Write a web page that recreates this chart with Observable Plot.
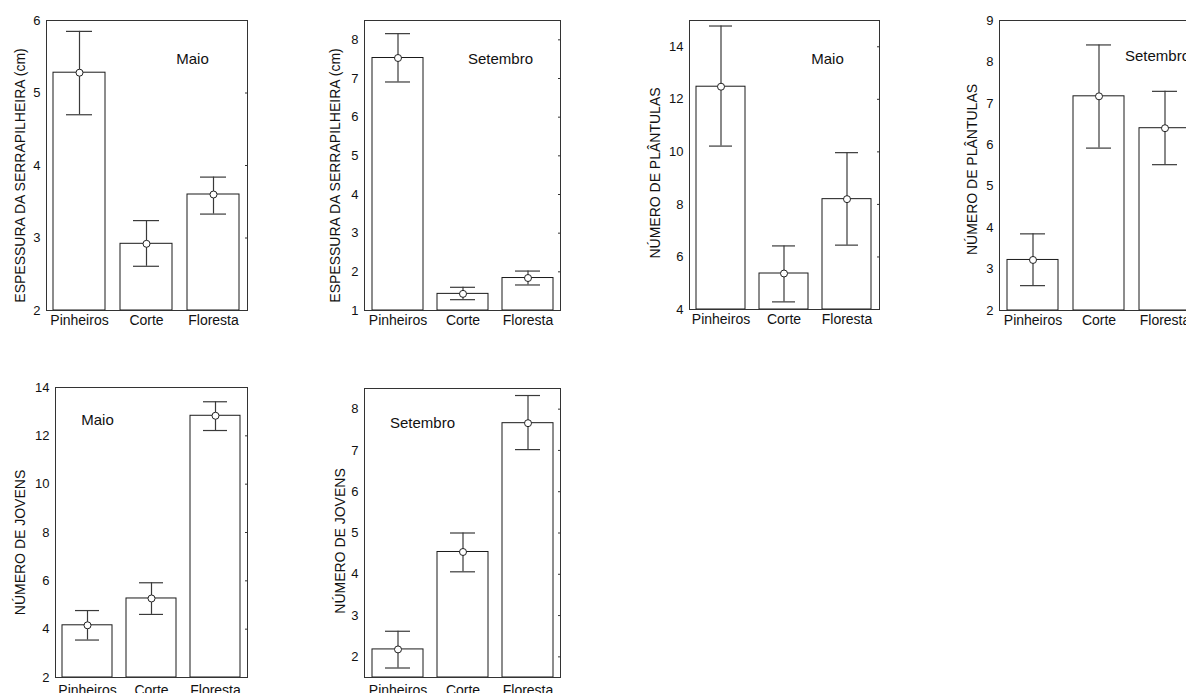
<!DOCTYPE html>
<html>
<head>
<meta charset="utf-8">
<script src="https://cdn.jsdelivr.net/npm/d3@7"></script>
<script src="https://cdn.jsdelivr.net/npm/@observablehq/plot@0.6"></script>
<style>
  html, body { margin: 0; padding: 0; background: #fff; overflow: hidden; }
  #root { position: relative; width: 1186px; height: 693px; overflow: hidden; font-family: "Liberation Sans", Arial, sans-serif; }
  #root svg { position: absolute; overflow: visible; }
</style>
</head>
<body>
<div id="root"></div>
<script>
// ---- data ----
const categories = ["Pinheiros", "Corte", "Floresta"];

const labelSerrapilheira = "ESPESSURA DA SERRAPILHEIRA (cm)";
const labelPlantulas = "NÚMERO DE PLÂNTULAS";
const labelJovens = "NÚMERO DE JOVENS";
const monthMaio = "Maio";
const monthSetembro = "Setembro";

const serrMaioMean = [5.28, 2.92, 3.60];
const serrMaioHi   = [5.85, 3.24, 3.84];
const serrMaioLo   = [4.70, 2.61, 3.33];
const serrMaioTicks = [2, 3, 4, 5, 6];
const serrMaioDomain = [2, 6];

const serrSetMean = [7.53, 1.43, 1.84];
const serrSetHi   = [8.16, 1.60, 2.02];
const serrSetLo   = [6.91, 1.28, 1.66];
const serrSetTicks = [1, 2, 3, 4, 5, 6, 7, 8];
const serrSetDomain = [1, 8.5];

const plantMaioMean = [12.48, 5.37, 8.20];
const plantMaioHi   = [14.79, 6.42, 9.97];
const plantMaioLo   = [10.22, 4.29, 6.45];
const plantMaioTicks = [4, 6, 8, 10, 12, 14];
const plantMaioDomain = [4, 15];

const plantSetMean = [3.22, 7.17, 6.40];
const plantSetHi   = [3.85, 8.41, 7.29];
const plantSetLo   = [2.60, 5.92, 5.52];
const plantSetTicks = [2, 3, 4, 5, 6, 7, 8, 9];
const plantSetDomain = [2, 9];

const jovMaioMean = [4.16, 5.27, 12.83];
const jovMaioHi   = [4.77, 5.92, 13.41];
const jovMaioLo   = [3.55, 4.61, 12.22];
const jovMaioTicks = [2, 4, 6, 8, 10, 12, 14];
const jovMaioDomain = [2, 14];

const jovSetMean = [2.18, 4.54, 7.66];
const jovSetHi   = [2.62, 5.00, 8.33];
const jovSetLo   = [1.73, 4.06, 7.02];
const jovSetTicks = [2, 3, 4, 5, 6, 7, 8];
const jovSetDomain = [1.5, 8.5];

// ---- layout (frame edges in page pixels, label offsets) ----
const panels = [
  {mean: serrMaioMean, hi: serrMaioHi, lo: serrMaioLo, ticks: serrMaioTicks, domain: serrMaioDomain,
   ylabel: labelSerrapilheira, month: monthMaio,
   x0: 46, x1: 247, y0: 20, y1: 310, labelX: 20, labelDy: 10, monthX: 192, monthY: 53, xPad: 5},
  {mean: serrSetMean, hi: serrSetHi, lo: serrSetLo, ticks: serrSetTicks, domain: serrSetDomain,
   ylabel: labelSerrapilheira, month: monthSetembro,
   x0: 364, x1: 560, y0: 20, y1: 310, labelX: 335, labelDy: 10, monthX: 500, monthY: 53, xPad: 5},
  {mean: plantMaioMean, hi: plantMaioHi, lo: plantMaioLo, ticks: plantMaioTicks, domain: plantMaioDomain,
   ylabel: labelPlantulas, month: monthMaio,
   x0: 689, x1: 879, y0: 20, y1: 309, labelX: 655, labelDy: 8, monthX: 827, monthY: 53, xPad: 5},
  {mean: plantSetMean, hi: plantSetHi, lo: plantSetLo, ticks: plantSetTicks, domain: plantSetDomain,
   ylabel: labelPlantulas, month: monthSetembro,
   x0: 999, x1: 1198, y0: 20, y1: 310, labelX: 972, labelDy: 4, monthX: 1157, monthY: 50, xPad: 5},
  {mean: jovMaioMean, hi: jovMaioHi, lo: jovMaioLo, ticks: jovMaioTicks, domain: jovMaioDomain,
   ylabel: labelJovens, month: monthMaio,
   x0: 55, x1: 247, y0: 387, y1: 677, labelX: 20, labelDy: 10, monthX: 97, monthY: 414, xPad: 8},
  {mean: jovSetMean, hi: jovSetHi, lo: jovSetLo, ticks: jovSetTicks, domain: jovSetDomain,
   ylabel: labelJovens, month: monthSetembro,
   x0: 364, x1: 560, y0: 388, y1: 677, labelX: 340, labelDy: 8, monthX: 422, monthY: 417, xPad: 8}
];

const mL = 48, mR = 6, mT = 6, mB = 34;
const root = document.getElementById("root");
const fmt = d3.format("d");

for (const p of panels) {
  const rows = categories.map((c, i) => ({cat: c, mean: p.mean[i], hi: p.hi[i], lo: p.lo[i]}));
  const base = p.domain[0];
  const fw = p.x1 - p.x0, fh = p.y1 - p.y0;
  const chart = Plot.plot({
    width: mL + fw + mR,
    height: mT + fh + mB,
    marginLeft: mL, marginRight: mR, marginTop: mT, marginBottom: mB,
    style: {fontFamily: "'Liberation Sans', Arial, sans-serif", color: "#111", background: "transparent", overflow: "visible"},
    x: {type: "band", domain: categories, paddingInner: 0.22, paddingOuter: 0.1},
    y: {domain: p.domain},
    marks: [
      Plot.barY(rows, {x: "cat", y1: () => base, y2: "mean", fill: "white", stroke: "#1a1a1a", strokeWidth: 1}),
      Plot.ruleX(rows, {x: "cat", y1: "lo", y2: "hi", stroke: "#3a3a3a", strokeWidth: 1.2}),
      Plot.tickY(rows, {x: "cat", y: "hi", stroke: "#3a3a3a", strokeWidth: 1.2, inset: 13}),
      Plot.tickY(rows, {x: "cat", y: "lo", stroke: "#3a3a3a", strokeWidth: 1.2, inset: 13}),
      Plot.dot(rows, {x: "cat", y: "mean", r: 3.5, fill: "white", stroke: "#222", strokeWidth: 1}),
      Plot.frame({stroke: "#333", strokeWidth: 1}),
      Plot.axisY({ticks: p.ticks, tickSize: 0, tickPadding: 6, fontSize: 13, tickFormat: fmt, label: null}),
      Plot.axisY({anchor: "right", ticks: p.ticks, tickSize: -3, tickFormat: () => "", label: null, stroke: "#333"}),
      Plot.axisX({tickSize: 0, tickPadding: p.xPad, fontSize: 14, label: null}),
      Plot.text([p.ylabel], {text: d => d, frameAnchor: "left", textAnchor: "middle", dx: p.labelX - p.x0, dy: p.labelDy, rotate: -90, fontSize: 14, fill: "#111"}),
      Plot.text([p.month], {text: d => d, frameAnchor: "top-left", textAnchor: "middle", dx: p.monthX - p.x0, dy: p.monthY - p.y0, fontSize: 15, fill: "#111"})
    ]
  });
  chart.style.left = (p.x0 - mL) + "px";
  chart.style.top = (p.y0 - mT) + "px";
  root.appendChild(chart);
}
</script>
</body>
</html>
